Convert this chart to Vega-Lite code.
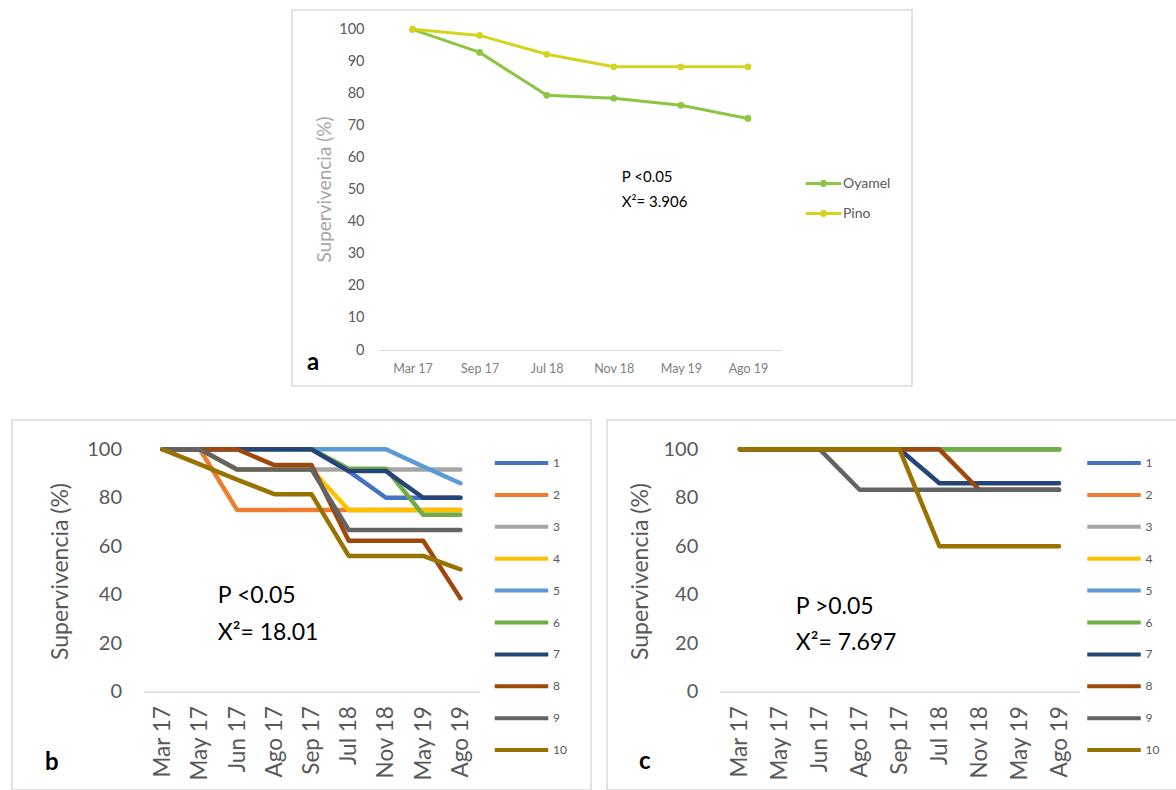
{
"$schema": "https://vega.github.io/schema/vega-lite/v6.json",
"padding": {"left": 11, "top": 9, "right": 0, "bottom": 0},
"autosize": {"type": "pad"},
"config": {"font": "Lato", "view": {"stroke": "#d9d9d9", "strokeWidth": 1.5}, "axis": {"grid": false, "ticks": false, "tickSize": 0, "labelOverlap": false, "labelFont": "Lato", "titleFont": "Lato"}, "legend": {"labelFont": "Lato"}},
"datasets": {
"a": [
{"m":"Mar 17","sp":"Oyamel","v":100},{"m":"Sep 17","sp":"Oyamel","v":92.8},{"m":"Jul 18","sp":"Oyamel","v":79.4},{"m":"Nov 18","sp":"Oyamel","v":78.5},{"m":"May 19","sp":"Oyamel","v":76.3},{"m":"Ago 19","sp":"Oyamel","v":72.2},
{"m":"Mar 17","sp":"Pino","v":100},{"m":"Sep 17","sp":"Pino","v":98.1},{"m":"Jul 18","sp":"Pino","v":92.2},{"m":"Nov 18","sp":"Pino","v":88.3},{"m":"May 19","sp":"Pino","v":88.3},{"m":"Ago 19","sp":"Pino","v":88.3}],
"b": [
{"m":"Mar 17","s":1,"v":100},{"m":"May 17","s":1,"v":100},{"m":"Jun 17","s":1,"v":100},{"m":"Ago 17","s":1,"v":100},{"m":"Sep 17","s":1,"v":100},{"m":"Jul 18","s":1,"v":91},{"m":"Nov 18","s":1,"v":80},{"m":"May 19","s":1,"v":80},{"m":"Ago 19","s":1,"v":80},
{"m":"Mar 17","s":2,"v":100},{"m":"May 17","s":2,"v":100},{"m":"Jun 17","s":2,"v":75},{"m":"Ago 17","s":2,"v":75},{"m":"Sep 17","s":2,"v":75},{"m":"Jul 18","s":2,"v":75},{"m":"Nov 18","s":2,"v":75},{"m":"May 19","s":2,"v":75},{"m":"Ago 19","s":2,"v":75},
{"m":"Mar 17","s":3,"v":100},{"m":"May 17","s":3,"v":100},{"m":"Jun 17","s":3,"v":91.7},{"m":"Ago 17","s":3,"v":91.7},{"m":"Sep 17","s":3,"v":91.7},{"m":"Jul 18","s":3,"v":91.7},{"m":"Nov 18","s":3,"v":91.7},{"m":"May 19","s":3,"v":91.7},{"m":"Ago 19","s":3,"v":91.7},
{"m":"Mar 17","s":4,"v":100},{"m":"May 17","s":4,"v":100},{"m":"Jun 17","s":4,"v":91.7},{"m":"Ago 17","s":4,"v":91.7},{"m":"Sep 17","s":4,"v":91.7},{"m":"Jul 18","s":4,"v":75},{"m":"Nov 18","s":4,"v":75},{"m":"May 19","s":4,"v":75},{"m":"Ago 19","s":4,"v":75},
{"m":"Mar 17","s":5,"v":100},{"m":"May 17","s":5,"v":100},{"m":"Jun 17","s":5,"v":100},{"m":"Ago 17","s":5,"v":100},{"m":"Sep 17","s":5,"v":100},{"m":"Jul 18","s":5,"v":100},{"m":"Nov 18","s":5,"v":100},{"m":"May 19","s":5,"v":92.9},{"m":"Ago 19","s":5,"v":86},
{"m":"Mar 17","s":6,"v":100},{"m":"May 17","s":6,"v":100},{"m":"Jun 17","s":6,"v":100},{"m":"Ago 17","s":6,"v":100},{"m":"Sep 17","s":6,"v":100},{"m":"Jul 18","s":6,"v":92},{"m":"Nov 18","s":6,"v":92},{"m":"May 19","s":6,"v":73},{"m":"Ago 19","s":6,"v":73},
{"m":"Mar 17","s":7,"v":100},{"m":"May 17","s":7,"v":100},{"m":"Jun 17","s":7,"v":100},{"m":"Ago 17","s":7,"v":100},{"m":"Sep 17","s":7,"v":100},{"m":"Jul 18","s":7,"v":91},{"m":"Nov 18","s":7,"v":91},{"m":"May 19","s":7,"v":80},{"m":"Ago 19","s":7,"v":80},
{"m":"Mar 17","s":8,"v":100},{"m":"May 17","s":8,"v":100},{"m":"Jun 17","s":8,"v":100},{"m":"Ago 17","s":8,"v":93.5},{"m":"Sep 17","s":8,"v":93.5},{"m":"Jul 18","s":8,"v":62.3},{"m":"Nov 18","s":8,"v":62.3},{"m":"May 19","s":8,"v":62.3},{"m":"Ago 19","s":8,"v":38.5},
{"m":"Mar 17","s":9,"v":100},{"m":"May 17","s":9,"v":100},{"m":"Jun 17","s":9,"v":91.7},{"m":"Ago 17","s":9,"v":91.7},{"m":"Sep 17","s":9,"v":91.7},{"m":"Jul 18","s":9,"v":66.7},{"m":"Nov 18","s":9,"v":66.7},{"m":"May 19","s":9,"v":66.7},{"m":"Ago 19","s":9,"v":66.7},
{"m":"Mar 17","s":10,"v":100},{"m":"May 17","s":10,"v":93.75},{"m":"Jun 17","s":10,"v":87.5},{"m":"Ago 17","s":10,"v":81.5},{"m":"Sep 17","s":10,"v":81.5},{"m":"Jul 18","s":10,"v":56},{"m":"Nov 18","s":10,"v":56},{"m":"May 19","s":10,"v":56},{"m":"Ago 19","s":10,"v":50.5}],
"c": [
{"m":"Mar 17","s":1,"v":100},{"m":"May 17","s":1,"v":100},{"m":"Jun 17","s":1,"v":100},{"m":"Ago 17","s":1,"v":100},{"m":"Sep 17","s":1,"v":100},{"m":"Jul 18","s":1,"v":100},{"m":"Nov 18","s":1,"v":100},{"m":"May 19","s":1,"v":100},{"m":"Ago 19","s":1,"v":100},
{"m":"Mar 17","s":2,"v":100},{"m":"May 17","s":2,"v":100},{"m":"Jun 17","s":2,"v":100},{"m":"Ago 17","s":2,"v":100},{"m":"Sep 17","s":2,"v":100},{"m":"Jul 18","s":2,"v":100},{"m":"Nov 18","s":2,"v":100},{"m":"May 19","s":2,"v":100},{"m":"Ago 19","s":2,"v":100},
{"m":"Mar 17","s":3,"v":100},{"m":"May 17","s":3,"v":100},{"m":"Jun 17","s":3,"v":100},{"m":"Ago 17","s":3,"v":100},{"m":"Sep 17","s":3,"v":100},{"m":"Jul 18","s":3,"v":100},{"m":"Nov 18","s":3,"v":100},{"m":"May 19","s":3,"v":100},{"m":"Ago 19","s":3,"v":100},
{"m":"Mar 17","s":4,"v":100},{"m":"May 17","s":4,"v":100},{"m":"Jun 17","s":4,"v":100},{"m":"Ago 17","s":4,"v":100},{"m":"Sep 17","s":4,"v":100},{"m":"Jul 18","s":4,"v":100},{"m":"Nov 18","s":4,"v":100},{"m":"May 19","s":4,"v":100},{"m":"Ago 19","s":4,"v":100},
{"m":"Mar 17","s":5,"v":100},{"m":"May 17","s":5,"v":100},{"m":"Jun 17","s":5,"v":100},{"m":"Ago 17","s":5,"v":100},{"m":"Sep 17","s":5,"v":100},{"m":"Jul 18","s":5,"v":100},{"m":"Nov 18","s":5,"v":100},{"m":"May 19","s":5,"v":100},{"m":"Ago 19","s":5,"v":100},
{"m":"Mar 17","s":6,"v":100},{"m":"May 17","s":6,"v":100},{"m":"Jun 17","s":6,"v":100},{"m":"Ago 17","s":6,"v":100},{"m":"Sep 17","s":6,"v":100},{"m":"Jul 18","s":6,"v":100},{"m":"Nov 18","s":6,"v":100},{"m":"May 19","s":6,"v":100},{"m":"Ago 19","s":6,"v":100},
{"m":"Mar 17","s":7,"v":100},{"m":"May 17","s":7,"v":100},{"m":"Jun 17","s":7,"v":100},{"m":"Ago 17","s":7,"v":100},{"m":"Sep 17","s":7,"v":100},{"m":"Jul 18","s":7,"v":86},{"m":"Nov 18","s":7,"v":86},{"m":"May 19","s":7,"v":86},{"m":"Ago 19","s":7,"v":86},
{"m":"Mar 17","s":8,"v":100},{"m":"May 17","s":8,"v":100},{"m":"Jun 17","s":8,"v":100},{"m":"Ago 17","s":8,"v":100},{"m":"Sep 17","s":8,"v":100},{"m":"Jul 18","s":8,"v":100},{"m":"Nov 18","s":8,"v":83.3},{"m":"May 19","s":8,"v":83.3},{"m":"Ago 19","s":8,"v":83.3},
{"m":"Mar 17","s":9,"v":100},{"m":"May 17","s":9,"v":100},{"m":"Jun 17","s":9,"v":100},{"m":"Ago 17","s":9,"v":83.3},{"m":"Sep 17","s":9,"v":83.3},{"m":"Jul 18","s":9,"v":83.3},{"m":"Nov 18","s":9,"v":83.3},{"m":"May 19","s":9,"v":83.3},{"m":"Ago 19","s":9,"v":83.3},
{"m":"Mar 17","s":10,"v":100},{"m":"May 17","s":10,"v":100},{"m":"Jun 17","s":10,"v":100},{"m":"Ago 17","s":10,"v":100},{"m":"Sep 17","s":10,"v":100},{"m":"Jul 18","s":10,"v":60},{"m":"Nov 18","s":10,"v":60},{"m":"May 19","s":10,"v":60},{"m":"Ago 19","s":10,"v":60}],
"na": [{"m":"Nov 18","v":54,"t":"P <0.05"},{"m":"Nov 18","v":46.1,"t":"X²= 3.906"}],
"nb": [{"m":"May 17","v":39.5,"t":"P <0.05"},{"m":"May 17","v":24.3,"t":"X²= 18.01"}],
"nc": [{"m":"May 17","v":35.1,"t":"P >0.05"},{"m":"May 17","v":20.1,"t":"X²= 7.697"}]
},
"spacing": 32,
"resolve": {"scale": {"color": "independent", "x": "independent", "y": "independent"}, "legend": {"color": "independent"}, "axis": {"x": "independent", "y": "independent"}},
"vconcat": [
{"spacing": 0,
 "resolve": {"scale": {"color": "independent", "x": "independent", "y": "independent"}, "legend": {"color": "independent"}},
 "hconcat": [
 {"width": 279, "height": 10, "view": {"stroke": null}, "data": {"values": []}, "mark": "point"},
 {"width": 620, "height": 376,
  "title": {"text": "a", "orient": "bottom", "anchor": "start", "offset": -35, "dx": 15, "fontSize": 24, "fontWeight": "bold", "font": "Lato", "color": "#000000"},
  "encoding": {
     "x": {"field": "m", "type": "ordinal", "scale": {"type": "point", "domain": ["Mar 17","Sep 17","Jul 18","Nov 18","May 19","Ago 19"], "range": [87, 489.5], "padding": 0.5},
       "axis": {"title": null, "offset": -36, "labelAngle": 0, "labelFontSize": 12.5, "labelColor": "#808080", "labelPadding": 12, "domainColor": "#d9d9d9", "domainWidth": 1}},
     "y": {"field": "v", "type": "quantitative", "scale": {"domain": [0, 100], "range": [340, 19.3], "nice": false, "zero": false},
       "axis": {"title": "Supervivencia (%)", "offset": -74, "values": [0,10,20,30,40,50,60,70,80,90,100], "labelOverlap": false, "domain": false, "labelFontSize": 14.5, "labelColor": "#595959", "labelPadding": 2, "titleFontSize": 19, "titleColor": "#a6a6a6", "titleFontWeight": "normal", "titlePadding": 4, "titleY": 179}}
  },
  "layer": [
   {"data": {"name": "a"}, "mark": {"type": "line", "strokeWidth": 3, "point": {"filled": true, "size": 45}},
    "encoding": {
     "color": {"field": "sp", "type": "nominal", "scale": {"domain": ["Oyamel","Pino"], "range": ["#8CC544","#D4D41E"]},
       "legend": {"title": null, "orient": "none", "legendX": 512, "legendY": 154, "symbolType": "M-1,0L1,0M0.12,0A0.12,0.12,0,1,1,-0.12,0A0.12,0.12,0,1,1,0.12,0", "symbolSize": 1267, "symbolStrokeWidth": 3, "labelFontSize": 14, "labelColor": "#595959", "labelOffset": 0, "rowPadding": 2}}
    }},
   {"data": {"name": "na"}, "mark": {"type": "text", "align": "left", "baseline": "middle", "dx": 8, "fontSize": 15, "color": "#000000"},
    "encoding": {"text": {"field": "t"}}}
  ]}
]},
{"spacing": 14,
 "resolve": {"scale": {"color": "independent", "x": "independent", "y": "independent"}, "legend": {"color": "independent"}},
 "hconcat": [
 {"width": 579, "height": 370,
  "title": {"text": "b", "orient": "bottom", "anchor": "start", "offset": -39, "dx": 33, "fontSize": 24, "fontWeight": "bold", "font": "Lato", "color": "#000000"},
  "encoding": {
     "x": {"field": "m", "type": "ordinal", "scale": {"type": "point", "domain": ["Mar 17","May 17","Jun 17","Ago 17","Sep 17","Jul 18","Nov 18","May 19","Ago 19"], "range": [132, 467], "padding": 0.5},
       "axis": {"title": null, "offset": -98.3, "labelAngle": 270, "labelFontSize": 22.5, "labelColor": "#595959", "labelPadding": 14, "domainColor": "#d9d9d9", "domainWidth": 1.5}},
     "y": {"field": "v", "type": "quantitative", "scale": {"domain": [0, 100], "range": [271.7, 29.3], "nice": false, "zero": false},
       "axis": {"title": "Supervivencia (%)", "offset": -111.5, "values": [0,20,40,60,80,100], "domain": false, "labelFontSize": 20, "labelColor": "#595959", "labelPadding": 2, "titleFontSize": 23, "titleColor": "#595959", "titleFontWeight": "normal", "titlePadding": 14, "titleY": 151}}
  },
  "layer": [
   {"data": {"name": "b"}, "mark": {"type": "line", "strokeWidth": 4.5, "strokeCap": "round", "strokeJoin": "round"},
    "encoding": {
     "color": {"field": "s", "type": "ordinal", "scale": {"domain": [1,2,3,4,5,6,7,8,9,10], "range": ["#4472C4","#ED7D31","#A5A5A5","#FFC000","#5B9BD5","#70AD47","#264478","#9E480E","#636363","#997300"]},
       "legend": {"title": null, "orient": "none", "legendX": 486.5, "legendY": 20, "symbolType": "M-1.274,0L1.274,0", "symbolSize": 1764, "symbolStrokeWidth": 4, "labelFontSize": 12, "labelColor": "#595959", "labelOffset": 8.5, "rowPadding": 0.9}}
    }},
   {"data": {"name": "nb"}, "mark": {"type": "text", "align": "left", "baseline": "middle", "dx": 18, "fontSize": 23, "color": "#000000"},
    "encoding": {"text": {"field": "t"}}}
  ]},
 {"width": 571, "height": 370,
  "title": {"text": "c", "orient": "bottom", "anchor": "start", "offset": -40, "dx": 32, "fontSize": 24, "fontWeight": "bold", "font": "Lato", "color": "#000000"},
  "encoding": {
     "x": {"field": "m", "type": "ordinal", "scale": {"type": "point", "domain": ["Mar 17","May 17","Jun 17","Ago 17","Sep 17","Jul 18","Nov 18","May 19","Ago 19"], "range": [113, 472], "padding": 0.5},
       "axis": {"title": null, "offset": -98.3, "labelAngle": 270, "labelFontSize": 22.5, "labelColor": "#595959", "labelPadding": 14, "domainColor": "#d9d9d9", "domainWidth": 1.5}},
     "y": {"field": "v", "type": "quantitative", "scale": {"domain": [0, 100], "range": [271.7, 29.3], "nice": false, "zero": false},
       "axis": {"title": "Supervivencia (%)", "offset": -92.8, "values": [0,20,40,60,80,100], "domain": false, "labelFontSize": 20, "labelColor": "#595959", "labelPadding": 2, "titleFontSize": 23, "titleColor": "#595959", "titleFontWeight": "normal", "titlePadding": 11, "titleY": 151}}
  },
  "layer": [
   {"data": {"name": "c"}, "mark": {"type": "line", "strokeWidth": 4.5, "strokeCap": "round", "strokeJoin": "round"},
    "encoding": {
     "color": {"field": "s", "type": "ordinal", "scale": {"domain": [1,2,3,4,5,6,7,8,9,10], "range": ["#4472C4","#ED7D31","#A5A5A5","#FFC000","#5B9BD5","#70AD47","#264478","#9E480E","#636363","#997300"]},
       "legend": {"title": null, "orient": "none", "legendX": 484, "legendY": 20, "symbolType": "M-1.274,0L1.274,0", "symbolSize": 1764, "symbolStrokeWidth": 4, "labelFontSize": 12, "labelColor": "#595959", "labelOffset": 8.5, "rowPadding": 0.9}}
    }},
   {"data": {"name": "nc"}, "mark": {"type": "text", "align": "left", "baseline": "middle", "dx": 16, "fontSize": 23, "color": "#000000"},
    "encoding": {"text": {"field": "t"}}}
  ]}
]}
]
}
